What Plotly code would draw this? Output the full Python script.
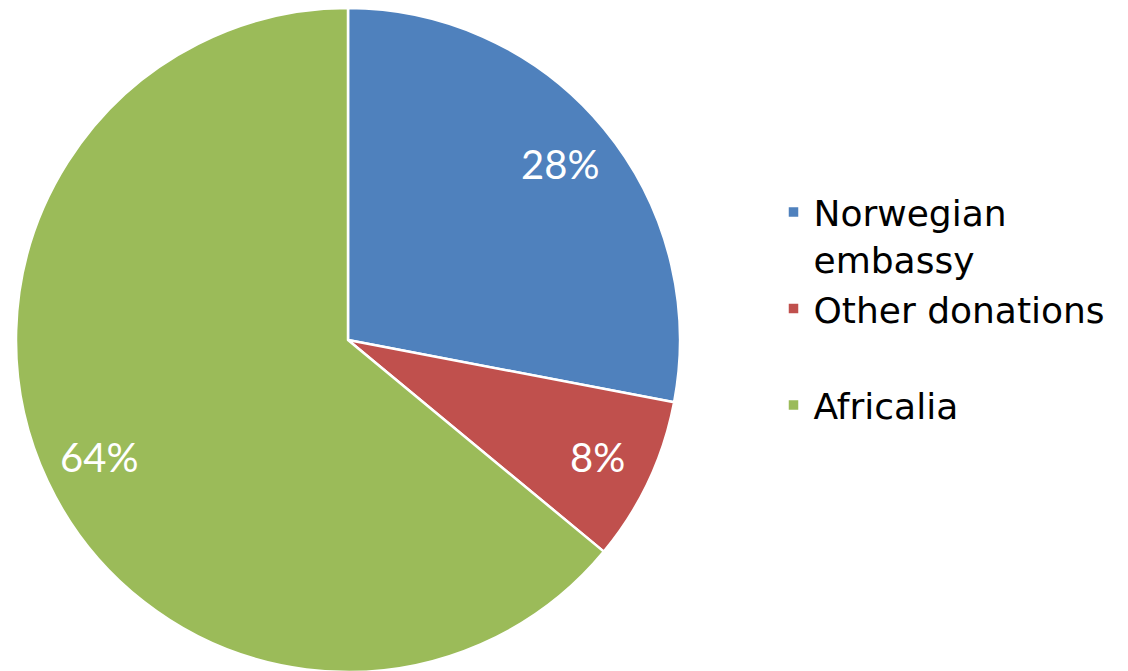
import math
import plotly.graph_objects as go

labels = ["Norwegian<br>embassy", "Other donations<br> ", "Africalia"]
values = [28, 8, 64]
colors = ["#4F81BD", "#C0504D", "#9BBB59"]

W, H = 1128, 671
OFF = 8  # page body margin
cx, cy, R = 348 - OFF, 340 - OFF, 332

fig = go.Figure(go.Pie(
    labels=labels, values=values, sort=False, direction="clockwise", rotation=0,
    marker=dict(colors=colors, line=dict(color="white", width=2.5)),
    textinfo="none", hoverinfo="percent",
    domain=dict(x=[(cx - R) / W, (cx + R) / W],
                y=[max(0, (H - cy - R) / H), min(1, (H - cy + R) / H)]),
))

# percent labels positioned from data angles
total = sum(values)
cum = 0
ann = []
for v in values:
    mid = (cum + v / 2) / total * 2 * math.pi
    cum += v
    r = 0.83 * R
    px = cx + r * math.sin(mid)
    py = cy - r * math.cos(mid)
    ann.append(dict(x=px / W, y=1 - py / H, xref="paper", yref="paper", showarrow=False,
                    xanchor="center", yanchor="middle",
                    text=f"{round(v / total * 100)}%", font=dict(color="white", size=40, family="Lato")))

fig.update_layout(
    width=W, height=H, margin=dict(l=0, r=0, t=0, b=0),
    paper_bgcolor="white", plot_bgcolor="white",
    annotations=ann,
    legend=dict(x=765.5 / W, y=1 - (206 - 32) / H, xanchor="left", yanchor="top",
                font=dict(size=36, family="DejaVu Sans", color="black"),
                tracegroupgap=0, itemwidth=30, valign="top"),
)
fig.write_html("out.html")
